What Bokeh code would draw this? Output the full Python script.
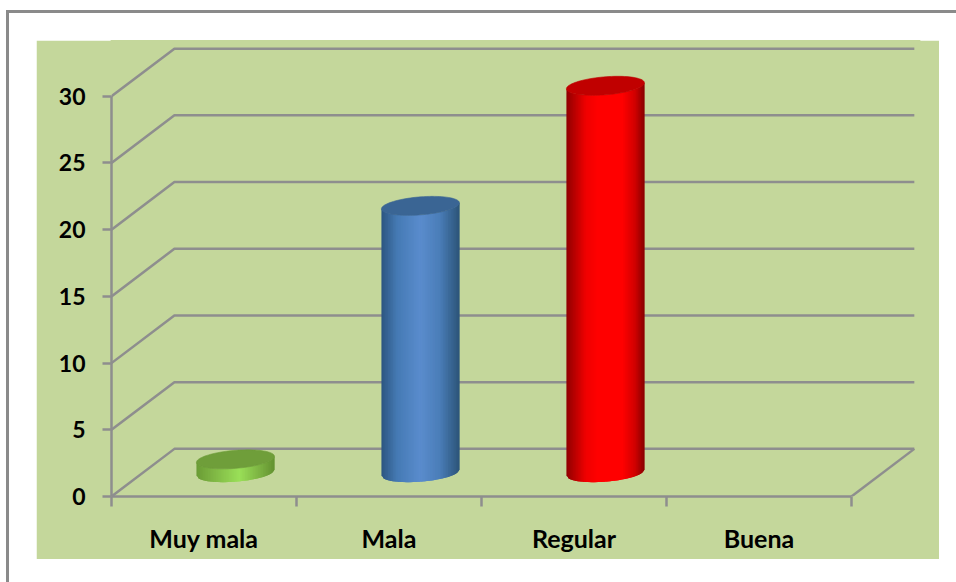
from bokeh.embed import file_html
from bokeh.resources import INLINE
from bokeh.plotting import figure
from bokeh.layouts import column
from bokeh.models import FixedTicker, Range1d, LinearAxis
import numpy as np

# --- data ---
categories = ["Muy mala", "Mala", "Regular", "Buena"]
values = [1, 20, 29, 0]
y_ticks = [0, 5, 10, 15, 20, 25, 30]

# --- style ---
PANEL = "#C4D79B"
GRID = "#8E8E8E"
FRAME = "#8A8A8A"
top_colors = ["#6F9E3A", "#3A6594", "#C00000", "#C00000"]
side_stops = [
    [(0, "#6A9C35"), (0.2, "#7DB443"), (0.55, "#9ADF58"), (0.8, "#7DB443"), (1, "#639230")],
    [(0, "#2C5580"), (0.2, "#457AB4"), (0.5, "#5A8CCD"), (0.75, "#4A7DB8"), (1, "#2C5478")],
    [(0, "#900000"), (0.25, "#F00000"), (0.4, "#FF0000"), (0.72, "#FF0000"), (0.88, "#D00000"), (1, "#880000")],
    [(0, "#880000"), (1, "#880000")],
]

# geometry in axis units
DEPTH_X, DEPTH_Y = 0.34, 3.57
BAR_W, ELL_B, ELL_S = 0.4216, 0.675, 0.225
X_END, Y_END = 4.368, 34.18
N = 48


def shade(stops, f):
    for (p0, c0), (p1, c1) in zip(stops, stops[1:]):
        if f <= p1:
            k = (f - p0) / (p1 - p0)
            a = [int(c0[j:j + 2], 16) for j in (1, 3, 5)]
            b = [int(c1[j:j + 2], 16) for j in (1, 3, 5)]
            return "#%02X%02X%02X" % tuple(round(u + (w - u) * k) for u, w in zip(a, b))
    return stops[-1][1]


p = figure(width=903, height=519, output_backend="svg", toolbar_location=None,
           x_range=Range1d(0, X_END), y_range=Range1d(0, Y_END),
           x_axis_type=None, y_axis_type=None,
           min_border_left=75, min_border_right=20, min_border_top=0, min_border_bottom=63,
           margin=(27, 0, 0, 27),
           background_fill_color=PANEL, border_fill_color=PANEL,
           outline_line_color=PANEL, outline_line_width=2)
p.grid.visible = False

# back wall and floor lines
n_cat = len(categories)
for v in y_ticks:
    p.line([0, DEPTH_X, n_cat + DEPTH_X], [v, v + DEPTH_Y, v + DEPTH_Y], line_color=GRID, line_width=2.5)
p.line([n_cat, n_cat + DEPTH_X], [0, DEPTH_Y], line_color=GRID, line_width=2.5)

# axis rules
p.line([0, 0], [y_ticks[0], y_ticks[-1]], line_color=GRID, line_width=2.5, level="guide")
p.line([0, n_cat], [0, 0], line_color=GRID, line_width=2.5, level="guide")

# cylinders
for i, v in enumerate(values):
    if v <= 0:
        continue
    cx = i + 0.5 + DEPTH_X / 2
    cy = DEPTH_Y / 2
    a = BAR_W / 2
    cs = np.linspace(-1, 1, N + 1)
    low = ELL_S * cs - ELL_B * np.sqrt(1 - cs ** 2)
    xs, ys, cols = [], [], []
    for k in range(N):
        e = min(k + 2, N)   # overlap the next strip so no seams show
        xs.append([cx + a * cs[k], cx + a * cs[e], cx + a * cs[e], cx + a * cs[k]])
        ys.append([cy + low[k], cy + low[e], cy + v + low[e], cy + v + low[k]])
        cols.append(shade(side_stops[i], (k + 0.5) / N))
    p.patches(xs, ys, fill_color=cols, line_color=None)
    t = np.linspace(0, 2 * np.pi, 90)
    p.patch(cx + a * np.cos(t), cy + v + ELL_B * np.sin(t) + ELL_S * np.cos(t),
            fill_color=top_colors[i], line_color=top_colors[i], line_width=0.6)

# axes
FONT = "Lato"
yax = LinearAxis(ticker=FixedTicker(ticks=y_ticks))
yax.major_label_text_font = FONT
yax.major_label_text_font_style = "bold"
yax.major_label_text_font_size = "23px"
yax.major_label_text_color = "#000000"
yax.major_label_standoff = 17
yax.axis_line_color = None
yax.major_tick_line_color = GRID
yax.major_tick_line_width = 2.5
yax.major_tick_in = 0
yax.major_tick_out = 9
yax.minor_tick_line_color = None
p.add_layout(yax, "left")

centers = [i + 0.5 for i in range(n_cat)]
xax = LinearAxis(ticker=FixedTicker(ticks=centers, minor_ticks=list(range(n_cat + 1))))
xax.major_label_overrides = dict(zip(centers, categories))
xax.major_label_text_font = FONT
xax.major_label_text_font_style = "bold"
xax.major_label_text_font_size = "25px"
xax.major_label_text_color = "#000000"
xax.major_label_standoff = 16
xax.axis_line_color = None
xax.major_tick_line_color = None
xax.major_tick_in = 0
xax.major_tick_out = 0
xax.minor_tick_line_color = GRID
xax.minor_tick_line_width = 2.5
xax.minor_tick_in = 0
xax.minor_tick_out = 10
p.add_layout(xax, "below")

page = column(p, width=950, height=572, margin=(10, 0, 0, 6),
              styles={"border-top": f"3px solid {FRAME}", "border-left": f"3px solid {FRAME}",
                      "box-sizing": "border-box", "background": "white"})

open("out.html", "w").write(file_html(page, INLINE))
